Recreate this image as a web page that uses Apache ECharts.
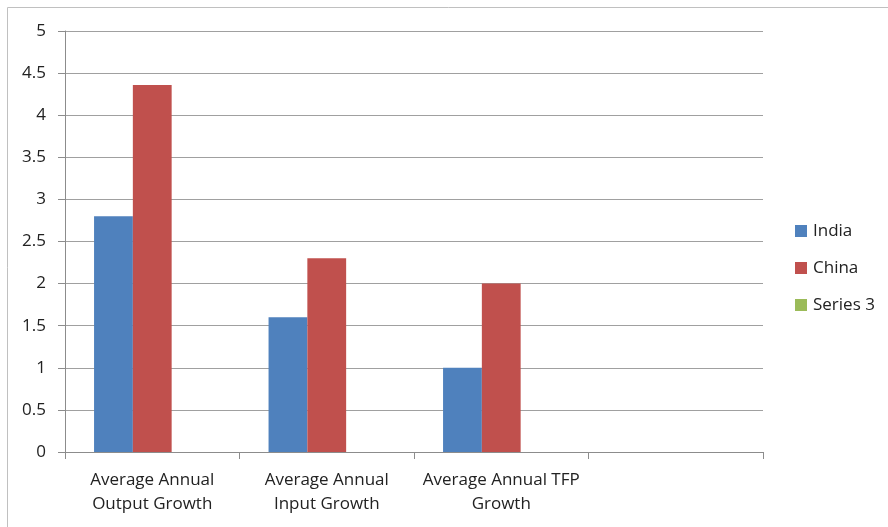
<!DOCTYPE html>
<html>
<head>
<meta charset="utf-8">
<script src="https://cdn.jsdelivr.net/npm/echarts@6/dist/echarts.min.js"></script>
<style>html,body{margin:0;padding:0;background:#fff}#c{width:888px;height:527px}</style>
</head>
<body>
<div id="c"></div>
<script>
const categories = ["Average Annual\nOutput Growth", "Average Annual\nInput Growth", "Average Annual TFP\nGrowth", ""];
const india = [2.8, 1.6, 1.0, null];
const china = [4.36, 2.3, 2.0, null];
const series3 = [null, null, null, null];
const yTicks = { min: 0, max: 5, interval: 0.5 };

const chart = echarts.init(document.getElementById('c'), null, { renderer: 'canvas' });
const font = '"Open Sans", sans-serif';
chart.setOption({
  animation: false,
  textStyle: { fontFamily: font },
  graphic: [{
    type: 'rect', shape: { x: 7.5, y: 7.5, width: 900, height: 540 },
    style: { fill: 'none', stroke: '#c0c0c0', lineWidth: 1 }, silent: true, z: -1
  }],
  grid: { left: 65, right: 125, top: 31, bottom: 75, containLabel: false },
  legend: {
    orient: 'vertical', left: 795, top: 221, padding: 0, itemWidth: 12, itemHeight: 12, itemGap: 17,
    icon: 'rect',
    textStyle: { fontSize: 17, color: '#222', fontFamily: font, lineHeight: 20, padding: [0, 0, 0, 1] },
    data: ['India', 'China', 'Series 3']
  },
  xAxis: {
    type: 'category', data: categories,
    axisLine: { lineStyle: { color: '#8c8c8c' } },
    axisTick: { show: true, length: 7, alignWithLabel: false, lineStyle: { color: '#8c8c8c' } },
    axisLabel: { interval: 0, fontSize: 17, color: '#222', lineHeight: 24, margin: 16, fontFamily: font }
  },
  yAxis: {
    type: 'value', min: yTicks.min, max: yTicks.max, interval: yTicks.interval,
    axisLine: { show: true, lineStyle: { color: '#8c8c8c' } },
    axisTick: { show: true, length: 7, lineStyle: { color: '#8c8c8c' } },
    splitLine: { lineStyle: { color: '#a0a0a0' } },
    axisLabel: { fontSize: 17, color: '#222', margin: 19, fontFamily: font }
  },
  series: [
    { name: 'India', type: 'bar', data: india, barGap: '0%', barCategoryGap: '33.3%', itemStyle: { color: '#4F81BD' } },
    { name: 'China', type: 'bar', data: china, barGap: '0%', barCategoryGap: '33.3%', itemStyle: { color: '#C0504D' } },
    { name: 'Series 3', type: 'bar', data: series3, barGap: '0%', barCategoryGap: '33.3%', itemStyle: { color: '#9BBB59' } }
  ]
});
</script>
</body>
</html>
